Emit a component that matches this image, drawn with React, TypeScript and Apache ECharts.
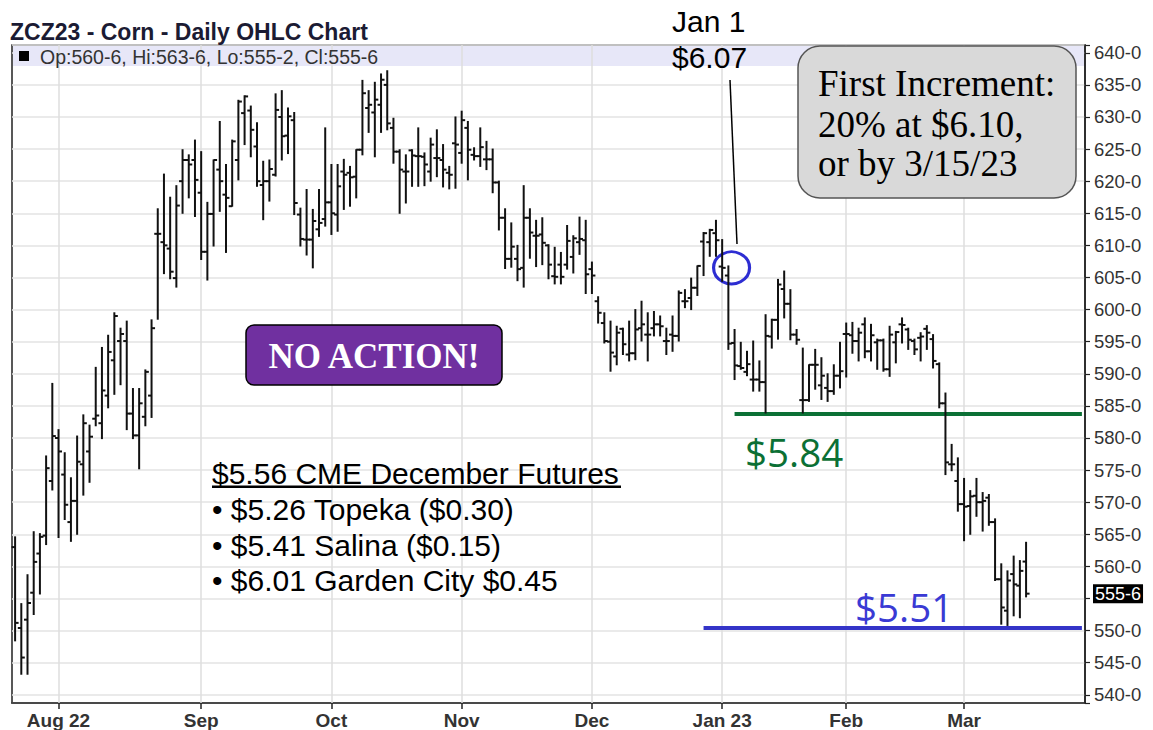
import React, { useEffect, useRef } from "react";
import * as echarts from "echarts";

// Trading sessions (day numbers per month); the last 9 March sessions are empty space to the right
const julDays = [21, 22, 25, 26, 27, 28, 29];
const augDays = [1, 2, 3, 4, 5, 8, 9, 10, 11, 12, 15, 16, 17, 18, 19, 22, 23, 24, 25, 26, 29, 30, 31];
const sepDays = [1, 2, 6, 7, 8, 9, 12, 13, 14, 15, 16, 19, 20, 21, 22, 23, 26, 27, 28, 29, 30];
const octDays = [3, 4, 5, 6, 7, 10, 11, 12, 13, 14, 17, 18, 19, 20, 21, 24, 25, 26, 27, 28, 31];
const novDays = [1, 2, 3, 4, 7, 8, 9, 10, 11, 14, 15, 16, 17, 18, 21, 22, 23, 25, 28, 29, 30];
const decDays = [1, 2, 5, 6, 7, 8, 9, 12, 13, 14, 15, 16, 19, 20, 21, 22, 23, 27, 28, 29, 30];
const janDays = [3, 4, 5, 6, 9, 10, 11, 12, 13, 17, 18, 19, 20, 23, 24, 25, 26, 27, 30, 31];
const febDays = [1, 2, 3, 6, 7, 8, 9, 10, 13, 14, 15, 16, 17, 21, 22, 23, 24, 27, 28];
const marDays = [1, 2, 3, 6, 7, 8, 9, 10, 13, 14, 15, 16, 17, 20, 21, 22, 23, 24, 27, 28];

const monthStartDates = ["2022-08-01", "2022-09-01", "2022-10-03", "2022-11-01", "2022-12-01", "2023-01-03", "2023-02-01", "2023-03-01"];
const monthTickLabels = ["Aug 22", "Sep", "Oct", "Nov", "Dec", "Jan 23", "Feb", "Mar"];

// Prices in cents
const opens = [
  563.0, 550.4, 551.7, 555.9, 562.0, 564.8, 573.3, 580.0, 574.3, 566.9,
  570.2, 575.9, 577.9, 583.0, 582.3, 586.6, 592.1, 595.1, 595.1, 583.8,
  580.4, 583.3, 586.6, 611.8, 610.5, 609.5, 604.9, 620.0, 623.3, 623.3,
  618.2, 609.0, 614.9, 621.8, 617.9, 616.1, 623.3, 630.6, 631.0, 625.4,
  619.4, 620.0, 621.0, 630.0, 627.1, 629.5, 614.8, 610.9, 610.9, 612.5,
  614.1, 616.7, 614.8, 621.5, 621.3, 620.7, 624.9, 631.4, 630.7, 631.9,
  635.0, 628.3, 624.6, 621.5, 624.8, 623.9, 623.8, 621.5, 623.6, 623.3,
  621.3, 625.9, 624.4, 628.3, 624.1, 623.9, 623.4, 623.4, 619.8, 614.3,
  607.9, 607.9, 606.5, 614.3, 611.5, 611.7, 610.0, 605.2, 607.0, 607.0,
  608.2, 610.5, 610.8, 606.3, 601.3, 597.9, 595.0, 592.7, 597.0, 593.0,
  593.2, 597.1, 596.1, 597.1, 597.7, 595.1, 596.1, 595.9, 601.3, 601.8,
  603.4, 610.6, 610.5, 611.9, 606.7, 605.3, 594.8, 591.2, 590.3, 589.1,
  589.1, 588.7, 595.8, 598.4, 603.2, 600.9, 596.1, 585.9, 585.9, 591.4,
  588.2, 587.8, 587.3, 589.7, 596.2, 596.0, 595.1, 597.7, 593.5, 594.9,
  595.2, 590.7, 594.9, 597.7, 596.9, 595.1, 595.6, 597.0, 595.4, 591.5,
  585.4, 575.9, 573.3, 569.7, 569.4, 571.0, 570.0, 570.7, 566.9, 558.0,
  553.1, 558.8, 557.0, 560.75,
];
const highs = [
  564.6, 554.2, 558.7, 565.4, 565.1, 577.2, 588.5, 581.3, 577.7, 573.8,
  580.3, 583.6, 582.0, 591.0, 594.1, 596.0, 599.5, 597.1, 598.2, 587.7,
  587.7, 590.6, 598.4, 615.7, 621.1, 617.5, 619.3, 624.9, 624.1, 626.4,
  624.6, 616.7, 623.3, 629.3, 622.6, 626.4, 632.6, 633.3, 631.7, 629.1,
  623.1, 623.3, 633.6, 634.1, 631.4, 630.7, 615.8, 618.7, 615.6, 618.7,
  628.3, 622.6, 622.6, 623.4, 622.3, 624.9, 635.7, 634.1, 635.4, 636.7,
  637.2, 629.8, 624.9, 624.1, 624.9, 628.3, 624.4, 626.7, 628.0, 625.7,
  622.3, 630.0, 630.9, 629.3, 625.2, 628.3, 626.2, 625.0, 620.0, 615.7,
  613.5, 610.0, 619.3, 615.7, 613.9, 614.3, 610.1, 609.7, 608.9, 613.1,
  611.5, 614.4, 613.9, 607.4, 602.0, 599.5, 598.2, 597.4, 597.1, 598.2,
  600.0, 601.3, 599.5, 599.7, 599.0, 597.1, 599.0, 602.9, 603.1, 604.9,
  606.8, 612.0, 612.5, 613.9, 610.9, 606.8, 596.9, 594.9, 593.5, 595.1,
  592.0, 599.2, 598.5, 604.7, 606.0, 603.1, 596.9, 594.0, 591.4, 593.8,
  592.5, 590.0, 591.4, 594.9, 597.9, 598.0, 597.1, 598.7, 597.7, 595.4,
  595.4, 597.4, 596.6, 598.7, 597.1, 595.4, 596.4, 597.5, 596.1, 591.7,
  587.0, 579.0, 576.9, 573.7, 571.8, 573.7, 571.5, 571.2, 567.4, 560.4,
  559.3, 561.6, 560.9, 563.75,
];
const lows = [
  548.4, 543.2, 543.2, 552.5, 555.7, 563.4, 571.9, 564.5, 567.3, 563.9,
  565.0, 571.1, 573.1, 581.9, 579.9, 584.7, 586.8, 588.3, 581.3, 579.9,
  575.2, 581.9, 583.2, 598.5, 605.6, 604.8, 603.5, 615.0, 617.4, 614.5,
  607.8, 604.6, 609.9, 615.3, 608.9, 616.1, 620.2, 625.7, 623.8, 619.2,
  614.0, 616.9, 620.8, 623.3, 624.3, 614.8, 609.9, 608.5, 606.5, 611.4,
  613.0, 611.7, 612.2, 615.6, 616.1, 617.4, 624.1, 627.6, 623.8, 627.6,
  628.0, 622.8, 615.0, 616.6, 619.2, 619.2, 619.3, 620.0, 620.7, 619.1,
  618.8, 618.9, 622.8, 620.2, 623.3, 622.3, 621.8, 618.2, 612.4, 606.4,
  606.6, 604.5, 603.5, 608.0, 606.7, 607.0, 604.8, 604.0, 604.0, 606.3,
  605.7, 608.6, 602.5, 602.5, 597.9, 594.8, 590.4, 591.4, 593.0, 592.0,
  592.2, 595.1, 592.0, 595.9, 595.9, 593.0, 593.5, 595.1, 600.3, 600.0,
  602.2, 605.3, 608.3, 608.3, 604.4, 593.8, 589.1, 590.7, 589.7, 587.3,
  587.3, 583.9, 594.0, 595.4, 598.7, 595.3, 594.6, 583.9, 585.7, 587.6,
  586.0, 585.7, 586.8, 587.8, 589.5, 593.2, 592.0, 592.5, 592.0, 590.7,
  590.4, 589.6, 591.7, 594.8, 593.8, 593.0, 592.0, 593.8, 590.9, 584.7,
  574.3, 574.9, 568.6, 564.0, 565.0, 567.8, 565.5, 566.4, 557.8, 551.0,
  550.8, 552.3, 552.0, 555.25,
];
const closes = [
  551.2, 545.8, 554.3, 560.7, 564.6, 575.3, 580.3, 577.9, 569.6, 570.2,
  576.3, 582.3, 580.2, 583.5, 587.4, 593.4, 599.0, 596.2, 583.8, 580.4,
  585.4, 590.3, 597.1, 611.8, 610.0, 605.9, 616.2, 623.3, 622.6, 620.2,
  609.0, 614.9, 623.3, 620.0, 617.4, 626.2, 632.4, 633.2, 628.0, 620.0,
  620.0, 621.9, 631.1, 627.0, 630.1, 616.6, 611.0, 610.9, 613.8, 613.5,
  616.7, 615.0, 619.2, 621.0, 620.6, 624.9, 633.7, 631.9, 632.7, 635.8,
  629.0, 624.6, 621.8, 621.5, 624.0, 623.9, 622.6, 625.7, 623.6, 621.8,
  621.0, 625.7, 629.5, 624.9, 623.9, 625.3, 623.4, 619.8, 614.3, 607.9,
  609.8, 606.3, 614.3, 612.0, 611.5, 610.4, 607.0, 605.1, 605.1, 610.7,
  611.1, 611.0, 605.5, 605.3, 599.5, 595.1, 593.3, 596.4, 594.6, 593.2,
  596.9, 597.7, 596.1, 597.7, 597.4, 595.1, 595.9, 602.6, 601.3, 603.4,
  606.8, 611.9, 612.4, 610.8, 606.5, 594.7, 591.3, 590.9, 591.5, 589.1,
  588.7, 595.9, 598.4, 603.9, 600.9, 596.1, 595.3, 585.9, 591.4, 591.4,
  589.7, 587.3, 589.7, 590.4, 596.2, 595.1, 596.4, 593.5, 596.0, 595.2,
  590.7, 596.1, 596.5, 597.6, 595.3, 593.8, 595.8, 596.4, 592.0, 585.4,
  576.2, 575.9, 569.7, 569.3, 570.9, 570.0, 570.2, 566.9, 558.0, 553.6,
  557.8, 557.2, 559.3, 555.75,
];

const supportLevel = 583.75; // $5.84
const lowLevel = 550.5; // $5.51
const jan1Level = 606.5; // $6.07
const lastClose = 555.75;

const sessionMonths: [string, number[]][] = [
  ["2022-07", julDays], ["2022-08", augDays], ["2022-09", sepDays], ["2022-10", octDays],
  ["2022-11", novDays], ["2022-12", decDays], ["2023-01", janDays], ["2023-02", febDays], ["2023-03", marDays],
];
const categories: string[] = [];
sessionMonths.forEach(([ym, days]) => days.forEach((d) => categories.push(`${ym}-${String(d).padStart(2, "0")}`)));

const SANS = '"Liberation Sans", Arial, sans-serif';
const SERIF = '"Liberation Serif", "Times New Roman", serif';
const OPEN = '"Open Sans", "Liberation Sans", sans-serif';

const text = (x: number, y: number, t: string, font: string, fill: string, align = "left") => ({
  type: "text",
  x,
  y,
  z: 20,
  silent: true,
  style: { text: t, font, fill, align, textAlign: align, verticalAlign: "middle", textVerticalAlign: "middle" },
});

export default function App() {
  const ref = useRef<HTMLDivElement>(null);
  useEffect(() => {
    const chart = echarts.init(ref.current!, null, { renderer: "svg" });
    const ohlc = opens.map((o, i) => [i, o, highs[i], lows[i], closes[i]]);
    const monthSet = new Set(monthStartDates);
    const labelOf = (v: string) => {
      const k = monthStartDates.indexOf(v);
      return k >= 0 ? monthTickLabels[k] : "";
    };
    const lastCat = categories[categories.length - 1];

    const renderItem = (params: any, api: any) => {
      const i = api.value(0);
      const pO = api.coord([i, api.value(1)]);
      const pH = api.coord([i, api.value(2)]);
      const pL = api.coord([i, api.value(3)]);
      const pC = api.coord([i, api.value(4)]);
      const w = 3.5;
      const style = { stroke: "#111", lineWidth: 2 };
      return {
        type: "group",
        children: [
          { type: "line", shape: { x1: pH[0], y1: pH[1] - 0.5, x2: pL[0], y2: pL[1] + 0.5 }, style },
          { type: "line", shape: { x1: pO[0] - w, y1: pO[1], x2: pO[0], y2: pO[1] }, style },
          { type: "line", shape: { x1: pC[0], y1: pC[1], x2: pC[0] + w, y2: pC[1] }, style },
        ],
      };
    };

    const option: any = {
      animation: false,
      backgroundColor: "#fff",
      grid: { left: 12, right: 68, top: 45, bottom: 26, show: true, borderColor: "#222", borderWidth: 1.5, backgroundColor: "transparent" },
      xAxis: {
        type: "category",
        data: categories,
        boundaryGap: true,
        axisLine: { show: true, lineStyle: { color: "#222", width: 1.5 } },
        axisTick: { show: true, alignWithLabel: true, length: 6, interval: (idx: number, v: string) => monthSet.has(v), lineStyle: { color: "#222", width: 1.5 } },
        axisLabel: {
          interval: (idx: number, v: string) => monthSet.has(v),
          formatter: (v: string) => labelOf(v),
          fontFamily: SANS,
          fontWeight: "bold",
          fontSize: 19,
          color: "#333",
          margin: 8,
        },
        splitLine: { show: false },
      },
      yAxis: {
        type: "value",
        position: "right",
        min: 538.72,
        max: 641.21,
        minInterval: 5,
        maxInterval: 5,
        axisLine: { show: true, lineStyle: { color: "#222", width: 1.5 } },
        axisTick: { show: true, length: 5, lineStyle: { color: "#222", width: 1.2 } },
        axisLabel: {
          formatter: (v: number) => (Math.abs(v % 5) < 1e-6 && v !== 555 ? `${v}-0` : ""),
          fontFamily: SANS,
          fontSize: 18.5,
          color: "#333",
          margin: 9,
        },
        splitLine: { show: true, lineStyle: { color: "#e3e3e3", width: 1.5 } },
      },
      series: [
        {
          type: "line",
          data: categories.map(() => null),
          z: 1,
          silent: true,
          markLine: {
            silent: true,
            symbol: ["none", "none"],
            label: { show: false },
            lineStyle: { color: "#dedede", width: 1.5, type: "solid" },
            data: monthStartDates.map((d) => ({ xAxis: d })),
          },
        },
        {
          type: "custom",
          z: 5,
          data: ohlc,
          encode: { x: 0, y: [1, 2, 3, 4] },
          renderItem,
          markPoint: {
            silent: true,
            symbol: "circle",
            symbolSize: [36, 32],
            symbolOffset: [-3, 0],
            itemStyle: { color: "rgba(0,0,0,0)", borderColor: "#2d2dd2", borderWidth: 3 },
            label: { show: false },
            data: [{ coord: [categories[116], jan1Level] }],
          },
        },
        {
          type: "line",
          data: categories.map(() => null),
          z: 6,
          silent: true,
          markLine: {
            silent: true,
            symbol: ["none", "none"],
            data: [
              [
                { coord: [categories[116], supportLevel], lineStyle: { color: "#0b7035", width: 4, type: "solid" }, label: { show: false } },
                { coord: [lastCat, supportLevel] },
              ],
              [
                { coord: [categories[111], lowLevel], lineStyle: { color: "#3434c8", width: 4, type: "solid" }, label: { show: false } },
                { coord: [lastCat, lowLevel] },
              ],
              {
                yAxis: lastClose,
                lineStyle: { color: "rgba(0,0,0,0)", width: 1, type: "solid" },
                label: {
                  show: true,
                  position: "end",
                  distance: 8,
                  formatter: "555-6",
                  color: "#fff",
                  backgroundColor: "#000",
                  padding: [1, 2, 0, 2],
                  fontFamily: SANS,
                  fontSize: 18,
                },
              },
            ],
          },
        },
      ],
      graphic: [
        { type: "rect", z: 1, silent: true, shape: { x: 13, y: 46, width: 1071, height: 20 }, style: { fill: "#e7e7f8" } },
        { type: "rect", z: 20, silent: true, shape: { x: 19, y: 51, width: 10, height: 10 }, style: { fill: "#000" } },
        text(40, 56.5, "Op:560-6, Hi:563-6, Lo:555-2, Cl:555-6", `19.5px ${SANS}`, "#333"),
        text(10, 32, "ZCZ23 - Corn - Daily OHLC Chart", `bold 23px ${SANS}`, "#1b1b33"),
        text(672, 21, "Jan 1", `30px ${SANS}`, "#000"),
        text(672, 57, "$6.07", `30px ${SANS}`, "#000"),
        { type: "line", z: 20, silent: true, shape: { x1: 730, y1: 80, x2: 737, y2: 244 }, style: { stroke: "#000", lineWidth: 1.5 } },
        { type: "rect", z: 15, silent: true, shape: { x: 246, y: 325, width: 256, height: 60, r: 8 }, style: { fill: "#7030a0", stroke: "#000", lineWidth: 1.5 } },
        text(374, 356, "NO ACTION!", `bold 35px ${SERIF}`, "#fff", "center"),
        { type: "rect", z: 15, silent: true, shape: { x: 798, y: 46, width: 278, height: 152, r: 22 }, style: { fill: "#d9d9d9", stroke: "#555", lineWidth: 1.5 } },
        text(818, 83, "First Increment:", `37px ${SERIF}`, "#000"),
        text(818, 124, "20% at $6.10,", `37px ${SERIF}`, "#000"),
        text(818, 163, "or by 3/15/23", `37px ${SERIF}`, "#000"),
        text(212, 473, "$5.56 CME December Futures", `30px ${SANS}`, "#000"),
        { type: "rect", z: 20, silent: true, shape: { x: 212, y: 485.5, width: 409, height: 2.5 }, style: { fill: "#000" } },
        text(212, 509, "\u2022 $5.26 Topeka ($0.30)", `30px ${SANS}`, "#000"),
        text(212, 545, "\u2022 $5.41 Salina ($0.15)", `30px ${SANS}`, "#000"),
        text(212, 580, "\u2022 $6.01 Garden City $0.45", `30px ${SANS}`, "#000"),
        text(745, 452, "$5.84", `38.5px ${OPEN}`, "#0b7035"),
        text(855, 607, "$5.51", `38.5px ${OPEN}`, "#3a3ad4"),
      ],
    };
    chart.setOption(option);
    return () => chart.dispose();
  }, []);
  return <div ref={ref} style={{ position: "fixed", left: 0, top: 0, width: 1153, height: 730, background: "#fff" }} />;
}
